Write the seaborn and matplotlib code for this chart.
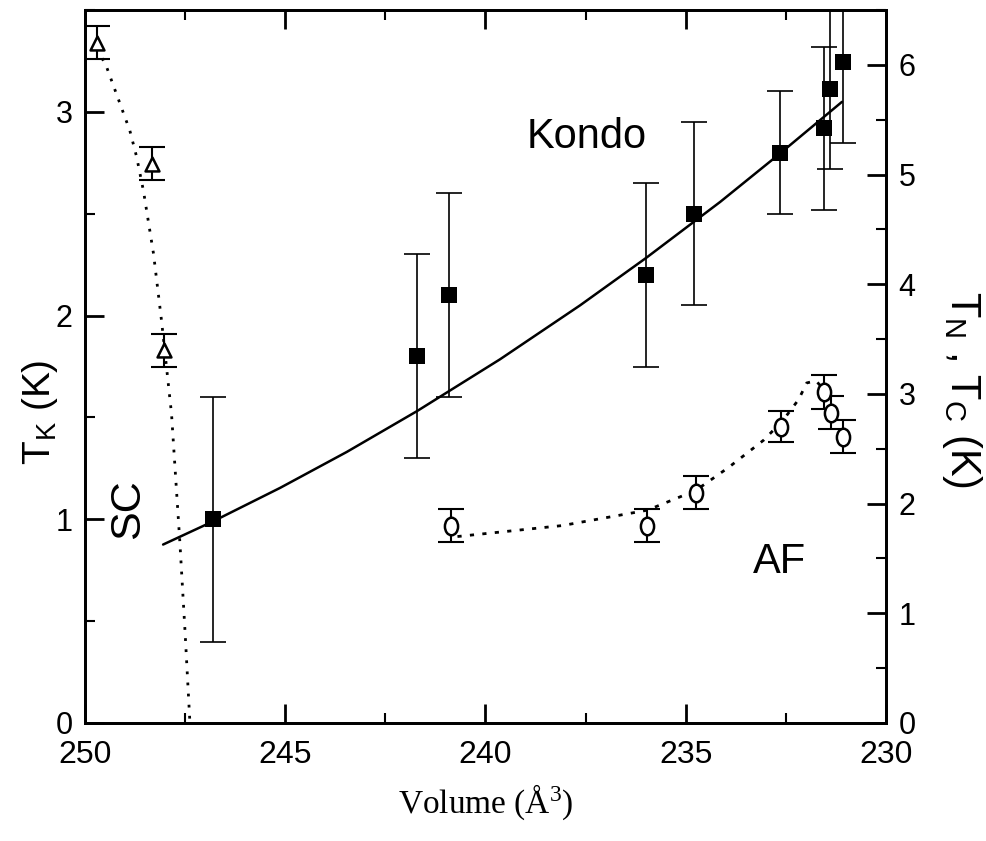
import matplotlib
matplotlib.use("Agg")
import matplotlib.pyplot as plt
import seaborn as sns
import pandas as pd
from matplotlib.path import Path
from matplotlib.transforms import Affine2D
from matplotlib.ticker import MultipleLocator

# Kondo temperature T_K (left axis)
kondo_volume = [246.8, 241.7, 240.9, 236.0, 234.8, 232.65, 231.55, 231.4, 231.08]
kondo_tk = [1.0, 1.8, 2.1, 2.2, 2.5, 2.8, 2.92, 3.11, 3.245]
kondo_err = [0.6, 0.5, 0.5, 0.45, 0.45, 0.3, 0.4, 0.39, 0.4]

# smooth fit through the Kondo points
kondo_fit_volume = [248.05, 246.80, 245.13, 243.46, 241.71, 239.64, 237.64,
                    235.99, 234.14, 232.65, 231.10]
kondo_fit_tk = [0.876, 0.990, 1.154, 1.331, 1.531, 1.785, 2.050,
                2.283, 2.558, 2.795, 3.049]

# superconducting T_C (right axis)
sc_volume = [249.7, 248.33, 248.02]
sc_tc = [6.2, 5.1, 3.4]
sc_err = [0.15, 0.15, 0.15]
sc_guide_volume = [249.7, 249.46, 248.88, 248.71, 248.54, 248.29, 248.09,
                   247.84, 247.63, 247.5, 247.38]
sc_guide_tc = [6.15, 5.98, 5.40, 5.16, 4.85, 4.28, 3.67, 2.82, 1.64, 0.82, 0.0]

# antiferromagnetic T_N (right axis)
af_volume = [240.87, 235.98, 234.75, 232.62, 231.55, 231.38, 231.07]
af_tn = [1.80, 1.80, 2.10, 2.70, 3.02, 2.83, 2.61]
af_err = [0.15, 0.15, 0.15, 0.14, 0.155, 0.15, 0.15]
af_guide_volume = [240.7, 238.08, 235.96, 234.75, 233.93, 233.05, 232.57,
                   232.18, 231.98, 231.75, 231.55]
af_guide_tn = [1.70, 1.80, 1.94, 2.12, 2.33, 2.58, 2.76, 2.95, 3.10, 3.12, 3.04]

sns.set_style("ticks")
plt.rcParams["font.family"] = ["Liberation Sans", "DejaVu Sans"]
plt.rcParams["mathtext.default"] = "regular"
plt.rcParams["axes.linewidth"] = 2.0
for key in ("text.color", "axes.labelcolor", "axes.edgecolor",
            "xtick.color", "ytick.color"):
    plt.rcParams[key] = "black"

fig = plt.figure(figsize=(9.86, 8.41), dpi=100)
ax = fig.add_axes([85 / 986, 1 - 723 / 841, 801 / 986, 713 / 841])
ax2 = ax.twinx()

kondo = pd.DataFrame({"V": kondo_volume, "T": kondo_tk})
kondo_fit = pd.DataFrame({"V": kondo_fit_volume, "T": kondo_fit_tk})
sc = pd.DataFrame({"V": sc_volume, "T": sc_tc})
sc_guide = pd.DataFrame({"V": sc_guide_volume, "T": sc_guide_tc})
af = pd.DataFrame({"V": af_volume, "T": af_tn})
af_guide = pd.DataFrame({"V": af_guide_volume, "T": af_guide_tn})

# Kondo data and fit
ax.errorbar(kondo_volume, kondo_tk, yerr=kondo_err, fmt="none", ecolor="black",
            elinewidth=1.2, capsize=9.5, capthick=1.2, zorder=2)
sns.lineplot(data=kondo_fit, x="V", y="T", ax=ax, color="black", lw=1.8,
             sort=False, zorder=3)
sns.scatterplot(data=kondo, x="V", y="T", ax=ax, marker="s", s=120,
                color="black", edgecolor="black", linewidth=0, zorder=4)

# SC and AF on the right-hand scale
ellipse = Path.unit_circle().transformed(Affine2D().scale(0.75, 1.0))
ax2.errorbar(sc_volume, sc_tc, yerr=sc_err, fmt="none", ecolor="black",
             elinewidth=1.5, capsize=9.5, capthick=1.5, zorder=2)
ax2.errorbar(af_volume, af_tn, yerr=af_err, fmt="none", ecolor="black",
             elinewidth=1.5, capsize=9.5, capthick=1.5, zorder=2)
sns.lineplot(data=sc_guide, x="V", y="T", ax=ax2, color="black", lw=2.0,
             linestyle=(0, (1, 3)), sort=False, zorder=3)
sns.lineplot(data=af_guide, x="V", y="T", ax=ax2, color="black", lw=2.0,
             linestyle=(0, (1.5, 3)), sort=False, zorder=3)
sns.scatterplot(data=sc, x="V", y="T", ax=ax2, marker="^", s=100,
                facecolor="white", edgecolor="black", linewidth=1.8, zorder=4)
sns.scatterplot(data=af, x="V", y="T", ax=ax2, marker=ellipse, s=160,
                facecolor="white", edgecolor="black", linewidth=1.8, zorder=4)

# axes ranges and ticks
ax.set_xlim(250, 230)
ax.set_ylim(0, 3.5)
ax2.set_ylim(0, 6.5)
ax.xaxis.set_major_locator(MultipleLocator(5))
ax.xaxis.set_minor_locator(MultipleLocator(2.5))
ax.yaxis.set_major_locator(MultipleLocator(1))
ax.yaxis.set_minor_locator(MultipleLocator(0.5))
ax2.yaxis.set_major_locator(MultipleLocator(1))
ax2.yaxis.set_minor_locator(MultipleLocator(0.5))

ax.tick_params(axis="x", which="both", direction="in", top=True, bottom=True)
ax.tick_params(axis="y", which="both", direction="in", left=True, right=False)
ax.tick_params(which="major", length=14, width=2, labelsize=22, pad=9)
ax.tick_params(which="minor", length=7, width=1.5)
ax.tick_params(axis="x", which="major", labelsize=23, pad=12)
ax2.tick_params(axis="y", which="both", direction="in", right=True, left=False)
ax2.tick_params(which="major", length=14, width=2, labelsize=22, pad=9)
ax2.tick_params(which="minor", length=7, width=1.5)
for a in (ax, ax2):
    for s in a.spines.values():
        s.set_linewidth(2.0)
        s.set_color("black")

ax.set_xlabel("Volume (Å$^3$)", family=["Liberation Serif", "DejaVu Serif"],
              fontsize=24)
ax.xaxis.set_label_coords(0.5, -0.083)
ax.set_ylabel("T$_K$ (K)", fontsize=28)
ax.yaxis.set_label_coords(-0.031, 0.436)
ax2.set_ylabel("T$_N$ , T$_C$ (K)", fontsize=30, rotation=270, va="center")
ax2.yaxis.set_label_coords(1.095, 0.468)

# phase labels
ax.text(237.47, 2.878, "Kondo", fontsize=30, ha="center", va="center")
ax.text(248.93, 1.052, "SC", fontsize=31, ha="center", va="center", rotation=90)
ax.text(232.67, 0.788, "AF", fontsize=30, ha="center", va="center")

fig.savefig("out.png", dpi=100)
